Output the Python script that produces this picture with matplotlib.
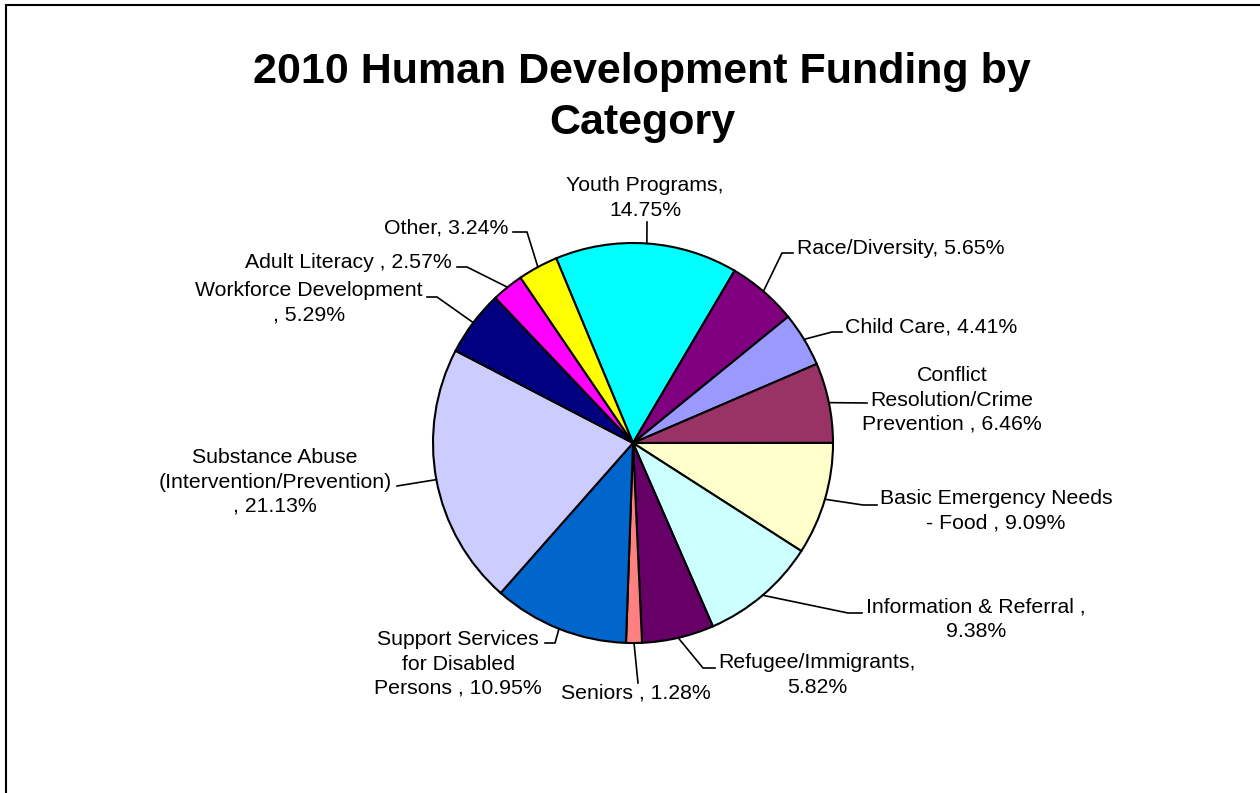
import numpy as np
import matplotlib
matplotlib.use("Agg")
import matplotlib.pyplot as plt
from matplotlib.patches import Rectangle

# data, clockwise from Youth Programs
categories = ["Youth Programs", "Race/Diversity", "Child Care",
              "Conflict\nResolution/Crime\nPrevention ",
              "Basic Emergency Needs\n- Food ", "Information & Referral ",
              "Refugee/Immigrants", "Seniors ",
              "Support Services\nfor Disabled\nPersons ",
              "Substance Abuse\n(Intervention/Prevention)",
              "Workforce Development", "Adult Literacy ", "Other"]
percents = [14.75, 5.65, 4.41, 6.46, 9.09, 9.38, 5.82, 1.28, 10.95, 21.13, 5.29, 2.57, 3.24]
colors = ["#00FFFF", "#800080", "#9999FF", "#993366", "#FFFFCC", "#CCFFFF", "#660066",
          "#FF8080", "#0066CC", "#CCCCFF", "#000080", "#FF00FF", "#FFFF00"]
seps = [",\n", ", ", ", ", ", ", ", ", ",\n", ",\n", ", ", ", ", "\n, ", "\n, ", ", ", ", "]

W, H = 1260, 793
# label layout in pixel coords (y from top): text anchor, ha, leader elbow points
label_pos = [(645, 198), (797, 248), (845, 327), (952, 400), (996, 511), (976, 619),
             (817, 675), (636, 693), (458, 664), (275, 482), (309, 303), (452, 262), (508, 228)]
label_ha = ["center", "left", "left", "center", "center", "center",
            "center", "center", "center", "center", "center", "right", "right"]
leader_pts = [[(647, 222)], [(782, 253), (793, 253)], [(832, 332), (842, 332)],
              [(867, 403)], [(863, 505), (877, 505)], [(848, 613), (862, 613)],
              [(703, 668), (715, 668)], [(638, 683)], [(555, 643), (545, 643)],
              [(397, 486)], [(437, 297), (427, 297)], [(467, 267), (457, 267)],
              [(527, 232), (513, 232)]]

plt.rcParams['font.family'] = ['Liberation Sans', 'DejaVu Sans']

fig = plt.figure(figsize=(W / 100, H / 100), dpi=100)
ax = fig.add_axes([0, 0, 1, 1])

cx, cy, r = 633, H - 443, 200
wedges, _ = ax.pie(percents, colors=colors, startangle=112.57, counterclock=False,
                   center=(cx, cy), radius=r, frame=True,
                   wedgeprops=dict(edgecolor='black', linewidth=1.5))
ax.set_xlim(0, W)
ax.set_ylim(0, H)
ax.set_aspect('equal')
ax.axis('off')

for w, cat, p, sep, (tx, ty), ha, pts in zip(wedges, categories, percents, seps,
                                              label_pos, label_ha, leader_pts):
    mid = np.deg2rad((w.theta1 + w.theta2) / 2)
    xs = [cx + r * np.cos(mid)] + [x for x, y in pts]
    ys = [cy + r * np.sin(mid)] + [H - y for x, y in pts]
    ax.plot(xs, ys, color='black', linewidth=1.2)
    ax.text(tx, H - ty, f"{cat}{sep}{p:.2f}%", ha=ha, va='center',
            multialignment='center', fontsize=15.3, linespacing=1.36, color='black')

# title
ax.text(642, H - 83, "2010 Human Development Funding by", ha='center', va='baseline',
        fontsize=31, fontweight='bold')
ax.text(642, H - 134, "Category", ha='center', va='baseline',
        fontsize=31, fontweight='bold')

# chart border
ax.add_patch(Rectangle((6, -20), W + 20, H - 5 + 20, fill=False,
                       edgecolor='black', linewidth=1.5, clip_on=False))

fig.savefig("out.png", dpi=100)
